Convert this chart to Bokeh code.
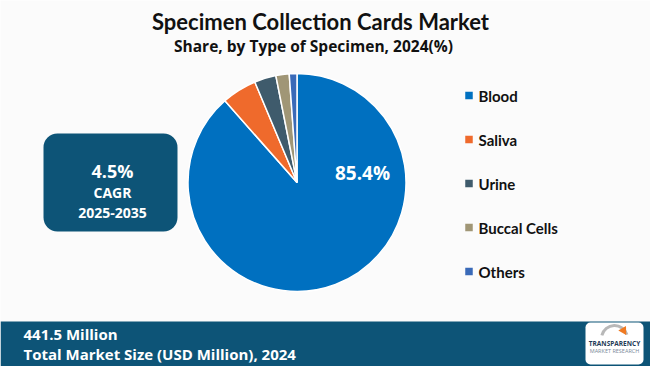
import numpy as np
from bokeh.plotting import figure
from bokeh.models import Range1d, ColumnDataSource
from bokeh.core.properties import value
from bokeh.embed import file_html
from bokeh.resources import INLINE

# ---- data ----
categories = ["Blood", "Saliva", "Urine", "Buccal Cells", "Others"]
shares = [85.4, 5.0, 3.1, 1.9, 1.1]
colors = ["#0070C0", "#EF6A2C", "#3F5B6C", "#A09676", "#3A6AB8"]
title = "Specimen Collection Cards Market"
subtitle = "Share, by Type of Specimen, 2024(%)"
cagr_lines = ["4.5%", "CAGR", "2025-2035"]
market_lines = ["441.5 Million", "Total Market Size (USD Million), 2024"]

H = 366
def Y(y):
    return H - np.asarray(y, dtype=float)

BG = "#FBFBFB"
TEAL = "#0D5477"

p = figure(width=650, height=366, x_range=Range1d(0, 650), y_range=Range1d(0, 366),
           output_backend="svg", toolbar_location=None, min_border=0)
p.axis.visible = False
p.grid.visible = False
p.outline_line_color = None
p.background_fill_color = BG
p.border_fill_color = BG

# ---- title ----
p.text(x=[320], y=[Y(21)], text=[title], text_font=value("Lato"), text_font_style="bold",
       text_font_size="22px", text_align="center", text_baseline="middle", text_color="#111111")
p.text(x=[313], y=[Y(45)], text=[subtitle], text_font=value("Open Sans"), text_font_style="bold",
       text_font_size="15.5px", text_align="center", text_baseline="middle", text_color="#111111")

# ---- pie ----
vals = np.array(shares, dtype=float)
frac = vals / vals.sum()
cum = np.concatenate([[0.0], np.cumsum(frac)])
start = np.pi / 2 - 2 * np.pi * cum[:-1]
end = np.pi / 2 - 2 * np.pi * cum[1:]
src = ColumnDataSource(dict(cat=categories, start=start, end=end, color=colors))
p.wedge(x=296.5, y=float(Y(182)), radius=109, start_angle="start", end_angle="end",
        direction="clock", fill_color="color", line_color="white", line_width=1.5, source=src)
p.text(x=[362], y=[Y(172)], text=[f"{shares[0]}%"], text_font=value("Open Sans"),
       text_font_style="bold", text_font_size="19px", text_align="center",
       text_baseline="middle", text_color="white")

# ---- legend ----
leg_y = Y([95, 139, 183, 227, 271])
p.rect(x=[468.5] * 5, y=leg_y, width=7.5, height=7.5, fill_color=colors, line_color=None)
p.text(x=[478] * 5, y=leg_y, text=categories, text_font=value("Lato"), text_font_style="bold",
       text_font_size="15px", text_align="left", text_baseline="middle", text_color="#111111")

# ---- CAGR box ----
p.quad(left=[43], right=[177], top=[Y(133)], bottom=[Y(231)], border_radius=14,
       fill_color=TEAL, line_color=None)
p.text(x=[112], y=[Y(170)], text=[cagr_lines[0]], text_font=value("Open Sans"),
       text_font_style="bold", text_font_size="18px", text_align="center",
       text_baseline="middle", text_color="white")
p.text(x=[112, 112], y=Y([192, 212]), text=cagr_lines[1:], text_font=value("Open Sans"),
       text_font_style="bold", text_font_size="14px", text_align="center",
       text_baseline="middle", text_color="white")

# ---- footer ----
p.quad(left=[0], right=[650], top=[Y(321)], bottom=[Y(366)], fill_color=TEAL, line_color=None)
p.text(x=[23, 23], y=Y([333, 353]), text=market_lines, text_font=value("Open Sans"),
       text_font_style="bold", text_font_size="15px", text_align="left",
       text_baseline="middle", text_color="white")

# ---- logo ----
p.quad(left=[585], right=[643], top=[Y(322)], bottom=[Y(364)], border_radius=5,
       fill_color="white", line_color=None)
p.arc(x=[614], y=[Y(338)], radius=13, start_angle=0.3, end_angle=2.9, line_color="#B8B8B8", line_width=3)
p.scatter(x=[623], y=[Y(330)], marker="triangle", size=9, fill_color="#F07A22", line_color=None, angle=-0.5)
p.text(x=[614], y=[Y(343)], text=["TRANSPARENCY"], text_font=value("Open Sans"), text_font_style="bold",
       text_font_size="6.5px", text_align="center", text_baseline="middle", text_color="#1F3B57")
p.text(x=[614], y=[Y(350)], text=["MARKET RESEARCH"], text_font=value("Open Sans"),
       text_font_size="5.5px", text_align="center", text_baseline="middle", text_color="#7A8A99")

open("out.html", "w").write(file_html(p, INLINE))
